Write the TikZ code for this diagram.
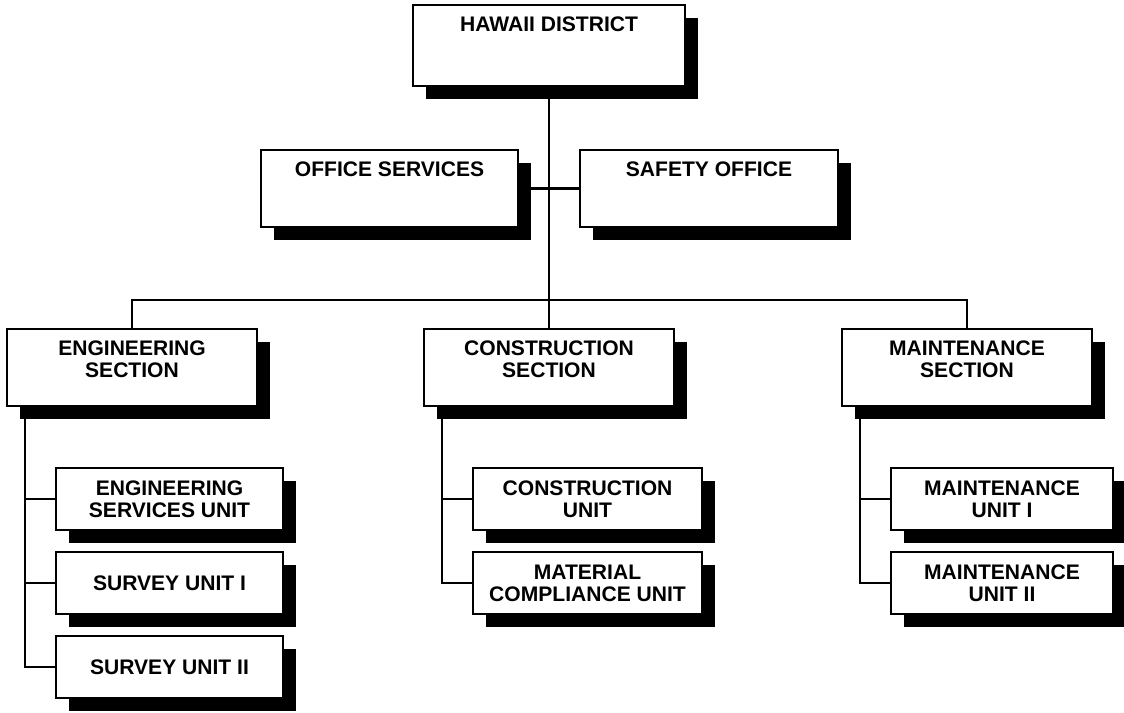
\documentclass[tikz,border=0pt]{standalone}
\usepackage{fontspec}
\setmainfont{Liberation Sans}
\usetikzlibrary{shadows,backgrounds}
\newlength{\px}\setlength{\px}{0.75pt}
\begin{document}
\begin{tikzpicture}[x=0.75pt,y=-0.75pt,
  txt/.style={font=\fontsize{15.8}{16.7}\selectfont\bfseries, align=center},
  orgbox/.style={draw=black, line width=1.4pt, fill=white, rectangle, inner sep=0pt,
    txt, drop shadow={shadow xshift=13*\px, shadow yshift=-13*\px, fill=black, opacity=1}},
  lbl/.style={txt, anchor=north, yshift=-12*\px, inner sep=0pt},
  sectbox/.style={orgbox, minimum width=250*\px, minimum height=77*\px},
  midbox/.style={orgbox, minimum height=77*\px},
  unitbox/.style={orgbox, minimum height=62*\px},
  conn/.style={draw=black, line width=1.7pt}
]
\useasboundingbox (0,0) rectangle (1124,713);

% top
\node[orgbox, minimum width=272*\px, minimum height=81*\px,
  label={[lbl]north:HAWAII DISTRICT}] (top) at (549,45.5) {};

% staff
\node[midbox, minimum width=257*\px, label={[lbl]north:OFFICE SERVICES}] (office) at (389.5,188.5) {};
\node[midbox, minimum width=258*\px, label={[lbl]north:SAFETY OFFICE}] (safety) at (709,188.5) {};

% sections
\node[sectbox, label={[lbl]north:ENGINEERING\\SECTION}] (engsec) at (132,367.5) {};
\node[sectbox, label={[lbl]north:CONSTRUCTION\\SECTION}] (consec) at (549,367.5) {};
\node[sectbox, label={[lbl]north:MAINTENANCE\\SECTION}] (mntsec) at (967,367.5) {};

% engineering units
\node[unitbox, minimum width=227*\px] (esu) at (169.5,499) {ENGINEERING\\SERVICES UNIT};
\node[unitbox, minimum width=227*\px] (su1) at (169.5,583) {SURVEY UNIT I};
\node[unitbox, minimum width=227*\px] (su2) at (169.5,667) {SURVEY UNIT II};

% construction units
\node[unitbox, minimum width=229*\px] (cu) at (587.5,499) {CONSTRUCTION\\UNIT};
\node[unitbox, minimum width=229*\px] (mcu) at (587.5,583) {MATERIAL\\COMPLIANCE UNIT};

% maintenance units
\node[unitbox, minimum width=222*\px] (mu1) at (1002,499) {MAINTENANCE\\UNIT I};
\node[unitbox, minimum width=222*\px] (mu2) at (1002,583) {MAINTENANCE\\UNIT II};

\begin{scope}[on background layer]
  \coordinate (bus) at (549,300);
  \draw[conn] (top.south) -- (bus);
  \draw[conn] (office.east) -- (safety.west);
  \draw[conn] (engsec.north) |- (bus) -| (mntsec.north);
  \draw[conn] (bus) -- (consec.north);

  \coordinate (engtrunk) at ([xshift=19*\px]engsec.south west);
  \draw[conn] (engtrunk) |- (su2.west);
  \draw[conn] (esu.west) -- (esu.west -| engtrunk);
  \draw[conn] (su1.west) -- (su1.west -| engtrunk);

  \coordinate (contrunk) at ([xshift=19*\px]consec.south west);
  \draw[conn] (contrunk) |- (mcu.west);
  \draw[conn] (cu.west) -- (cu.west -| contrunk);

  \coordinate (mnttrunk) at ([xshift=19*\px]mntsec.south west);
  \draw[conn] (mnttrunk) |- (mu2.west);
  \draw[conn] (mu1.west) -- (mu1.west -| mnttrunk);
\end{scope}
\end{tikzpicture}
\end{document}
